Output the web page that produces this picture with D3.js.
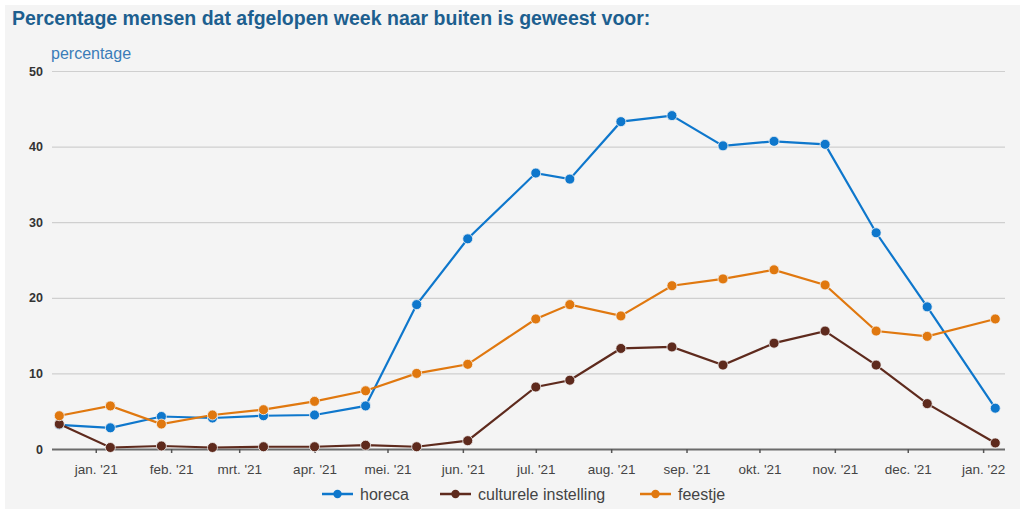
<!DOCTYPE html>
<html lang="nl">
<head>
    <meta charset="UTF-8">
    <title>Percentage mensen naar buiten</title>
    <script src="https://d3js.org/d3.v7.min.js"></script>
    <style>
        body { margin: 0; background: #fff; }
        text { font-family: "Liberation Sans", Arial, sans-serif; }
        .title { fill: #1d5f8f; font-size: 19.5px; font-weight: bold; }
        .ylabel { fill: #3a7cb8; font-size: 16px; }
        .y-axis text { fill: #333; font-size: 12.5px; font-weight: bold; }
        .x-axis text { fill: #444; font-size: 13.5px; }
        .legend text { fill: #444; font-size: 16px; }
    </style>
</head>
<body>
<script>
    // survey dates (3-weekly, some 2- or 4-weekly)
    const dates = ["2020-12-17", "2021-01-07", "2021-01-28", "2021-02-18", "2021-03-11",
                   "2021-04-01", "2021-04-22", "2021-05-13", "2021-06-03", "2021-07-01",
                   "2021-07-15", "2021-08-05", "2021-08-26", "2021-09-16", "2021-10-07",
                   "2021-10-28", "2021-11-18", "2021-12-09", "2022-01-06"];

    const horeca   = [3.2, 2.8, 4.3, 4.1, 4.4, 4.5, 5.7, 19.1, 27.8, 36.5, 35.7, 43.3, 44.1, 40.1, 40.7, 40.3, 28.6, 18.8, 5.4];
    const cultuur  = [3.3, 0.2, 0.4, 0.2, 0.3, 0.3, 0.5, 0.3, 1.1, 8.2, 9.1, 13.3, 13.5, 11.1, 14.0, 15.6, 11.1, 6.0, 0.8];
    const feestje  = [4.4, 5.7, 3.3, 4.5, 5.2, 6.3, 7.7, 10.0, 11.2, 17.2, 19.1, 17.6, 21.6, 22.5, 23.7, 21.7, 15.6, 14.9, 17.2];

    const seriesNames = ["horeca", "culturele instelling", "feestje"];
    const colors = ["#0e77cc", "#5e2a1d", "#e0780f"];

    const monthTicks = ["2021-01-01", "2021-02-01", "2021-03-01", "2021-04-01", "2021-05-01",
                        "2021-06-01", "2021-07-01", "2021-08-01", "2021-09-01", "2021-10-01",
                        "2021-11-01", "2021-12-01", "2022-01-01"];
    const monthLabels = ["jan. '21", "feb. '21", "mrt. '21", "apr. '21", "mei. '21", "jun. '21",
                         "jul. '21", "aug. '21", "sep. '21", "okt. '21", "nov. '21", "dec. '21", "jan. '22"];
    const yTicks = [0, 10, 20, 30, 40, 50];

    const width = 1025, height = 515;
    const plotLeft = 52, plotRight = 1005, plotTop = 71, plotBottom = 449;

    const parse = d3.timeParse("%Y-%m-%d");

    const svg = d3.select("body").append("svg")
        .attr("width", width).attr("height", height);

    svg.append("rect").attr("x", 5).attr("y", 5)
        .attr("width", 1015).attr("height", 504)
        .attr("fill", "#f4f4f4");

    const x = d3.scaleTime()
        .domain([parse("2020-12-14"), parse("2022-01-10")])
        .range([plotLeft, plotRight]);
    const y = d3.scaleLinear().domain([0, 50]).range([plotBottom, plotTop]);

    svg.append("text").attr("class", "title")
        .attr("x", 12).attr("y", 25)
        .text("Percentage mensen dat afgelopen week naar buiten is geweest voor:");

    svg.append("text").attr("class", "ylabel")
        .attr("x", 51).attr("y", 59)
        .text("percentage");

    // horizontal grid + y labels
    const yAxis = svg.append("g").attr("class", "y-axis")
        .attr("transform", `translate(${plotLeft},0)`)
        .call(d3.axisLeft(y).tickValues(yTicks).tickSize(-(plotRight - plotLeft)).tickPadding(9));
    yAxis.select(".domain").remove();
    yAxis.selectAll(".tick line").attr("stroke", "#cfcfcf").attr("stroke-width", 1.2);
    yAxis.selectAll(".tick").filter(d => d === 0).select("line")
        .attr("stroke", "#6b6b6b").attr("stroke-width", 2);

    // x axis with month ticks
    const xAxis = svg.append("g").attr("class", "x-axis")
        .attr("transform", `translate(0,${plotBottom})`)
        .call(d3.axisBottom(x).tickValues(monthTicks.map(parse))
            .tickFormat((d, i) => monthLabels[i]).tickSize(4).tickPadding(11));
    xAxis.select(".domain").remove();
    xAxis.selectAll(".tick line").attr("stroke", "#555").attr("stroke-width", 1.5);

    const allSeries = [horeca, cultuur, feestje];
    const line = d3.line()
        .x((d, i) => x(parse(dates[i])))
        .y(d => y(d));

    allSeries.forEach((vals, s) => {
        const g = svg.append("g");
        g.append("path").datum(vals)
            .attr("fill", "none")
            .attr("stroke", colors[s])
            .attr("stroke-width", 2.2)
            .attr("d", line);
        g.selectAll("circle").data(vals).join("circle")
            .attr("cx", (d, i) => x(parse(dates[i])))
            .attr("cy", d => y(d))
            .attr("r", 5)
            .attr("fill", colors[s])
            .attr("stroke", "#f4f4f4")
            .attr("stroke-width", 0.8);
    });

    // legend
    const legendX = [322, 440, 640];
    const legend = svg.append("g").attr("class", "legend");
    seriesNames.forEach((name, s) => {
        const lg = legend.append("g").attr("transform", `translate(${legendX[s]},494)`);
        lg.append("line").attr("x1", 0).attr("x2", 31).attr("y1", 0).attr("y2", 0)
            .attr("stroke", colors[s]).attr("stroke-width", 2.5);
        lg.append("circle").attr("cx", 15.5).attr("cy", 0).attr("r", 4.2)
            .attr("fill", colors[s]);
        lg.append("text").attr("x", 38).attr("y", 5.8).text(name);
    });
</script>
</body>
</html>
